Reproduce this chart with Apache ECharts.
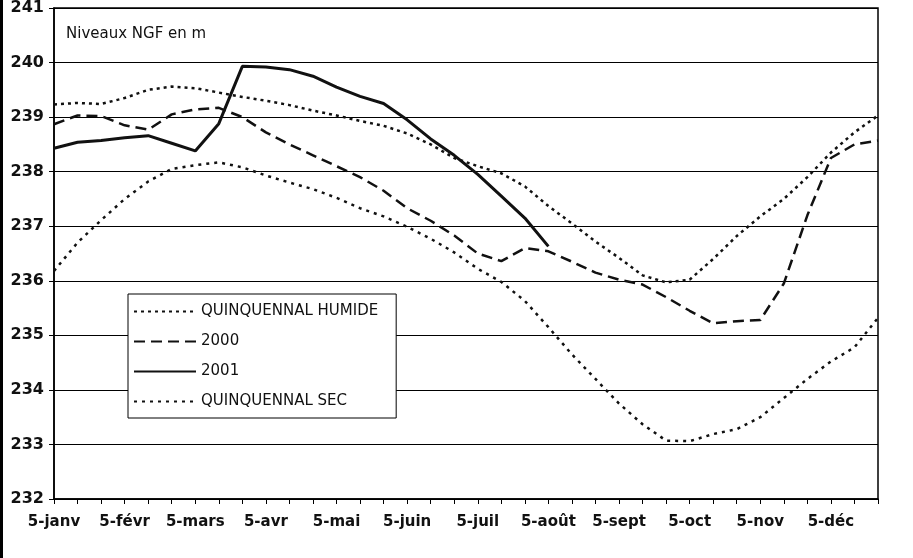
<!DOCTYPE html>
<html>
<head>
<meta charset="utf-8">
<script src="https://cdn.jsdelivr.net/npm/echarts@6/dist/echarts.min.js"></script>
<style>
  html, body { margin: 0; padding: 0; background: #fff; }
  #chart { width: 913px; height: 558px; }
</style>
</head>
<body>
<div id="chart"></div>
<script>
// mois, une valeur tous les 10 jours (5, 15, 25)
const months = ['janv', 'févr', 'mars', 'avr', 'mai', 'juin', 'juil', 'août', 'sept', 'oct', 'nov', 'déc'];
const days = [5, 15, 25];
const categories = [];
months.forEach(m => days.forEach(d => categories.push(d + '-' + m)));

// niveaux NGF (m)
const humide = [239.23, 239.26, 239.24, 239.35, 239.5, 239.56, 239.53, 239.45, 239.37, 239.3,
  239.22, 239.12, 239.03, 238.93, 238.84, 238.7, 238.5, 238.25, 238.1, 237.97,
  237.73, 237.37, 237.05, 236.72, 236.42, 236.1, 235.97, 236.02, 236.4, 236.82,
  237.18, 237.5, 237.9, 238.35, 238.72, 239.03];
const an2000 = [238.87, 239.03, 239.02, 238.85, 238.77, 239.05, 239.14, 239.17, 239.0, 238.72,
  238.5, 238.3, 238.1, 237.9, 237.65, 237.33, 237.1, 236.83, 236.5, 236.36,
  236.6, 236.54, 236.35, 236.15, 236.02, 235.93, 235.7, 235.45, 235.22, 235.26,
  235.28, 235.95, 237.2, 238.25, 238.5, 238.57];
const an2001 = [238.43, 238.54, 238.57, 238.62, 238.66, 238.52, 238.38, 238.88, 239.93, 239.92,
  239.87, 239.75, 239.55, 239.38, 239.25, 238.95, 238.6, 238.3, 237.95, 237.55,
  237.15, 236.63];
const sec = [236.18, 236.7, 237.11, 237.5, 237.82, 238.05, 238.12, 238.17, 238.08, 237.93,
  237.8, 237.68, 237.52, 237.33, 237.18, 236.99, 236.77, 236.52, 236.22, 235.98,
  235.63, 235.15, 234.65, 234.2, 233.75, 233.37, 233.07, 233.06, 233.19, 233.28,
  233.5, 233.85, 234.2, 234.52, 234.78, 235.32];

var myChart = echarts.init(document.getElementById('chart'));
let option = {
    backgroundColor: '#fff',
    animation: false,
    title: {
        text: 'Niveaux NGF en m',
        left: 61,
        top: 22,
        textStyle: { fontFamily: 'DejaVu Sans', fontSize: 15, fontWeight: 'normal', color: '#111' }
    },
    legend: {
        orient: 'vertical',
        left: 128,
        top: 294,
        padding: [10, 18, 9, 5],
        itemWidth: 62,
        itemHeight: 14,
        itemGap: 15,
        backgroundColor: '#fff',
        borderColor: '#000',
        borderWidth: 1,
        itemStyle: { opacity: 0 },
        textStyle: { fontFamily: 'DejaVu Sans', fontSize: 15, color: '#111' },
        data: ['QUINQUENNAL HUMIDE', '2000', '2001', 'QUINQUENNAL SEC']
    },
    grid: {
        show: true,
        left: 54,
        right: 35,
        top: 3,
        bottom: 59,
        borderColor: '#000',
        borderWidth: 1.5,
        containLabel: false
    },
    xAxis: {
        type: 'category',
        boundaryGap: false,
        data: categories,
        axisLine: { lineStyle: { color: '#000', width: 1.5 } },
        axisTick: { show: true, interval: 0, length: 5, lineStyle: { color: '#000' } },
        axisLabel: {
            interval: 2,
            margin: 16,
            color: '#111',
            fontFamily: 'DejaVu Sans',
            fontWeight: 'bold',
            fontSize: 15
        },
        splitLine: { show: false }
    },
    yAxis: {
        type: 'value',
        min: 232,
        max: 241,
        interval: 1,
        axisLine: { show: true, lineStyle: { color: '#000', width: 1.5 } },
        axisTick: { show: true, length: 5, lineStyle: { color: '#000' } },
        axisLabel: {
            margin: 10,
            color: '#111',
            fontFamily: 'DejaVu Sans',
            fontWeight: 'bold',
            fontSize: 16
        },
        splitLine: { lineStyle: { color: '#000', width: 1 } }
    },
    graphic: [
        { type: 'line', shape: { x1: 1.5, y1: 0, x2: 1.5, y2: 558 }, style: { stroke: '#000', lineWidth: 3 } }
    ],
    series: [
        {
            name: 'QUINQUENNAL HUMIDE',
            type: 'line',
            data: humide,
            symbol: 'none',
            lineStyle: { color: '#111', width: 2.5, type: [3, 4] },
            itemStyle: { color: '#111' }
        },
        {
            name: '2000',
            type: 'line',
            data: an2000,
            symbol: 'none',
            lineStyle: { color: '#111', width: 2.5, type: [11, 6] },
            itemStyle: { color: '#111' }
        },
        {
            name: '2001',
            type: 'line',
            data: an2001,
            symbol: 'none',
            lineStyle: { color: '#111', width: 3 },
            itemStyle: { color: '#111' }
        },
        {
            name: 'QUINQUENNAL SEC',
            type: 'line',
            data: sec,
            symbol: 'none',
            lineStyle: { color: '#111', width: 2.5, type: [3, 5] },
            itemStyle: { color: '#111' }
        }
    ]
};
myChart.setOption(option);
</script>
</body>
</html>
